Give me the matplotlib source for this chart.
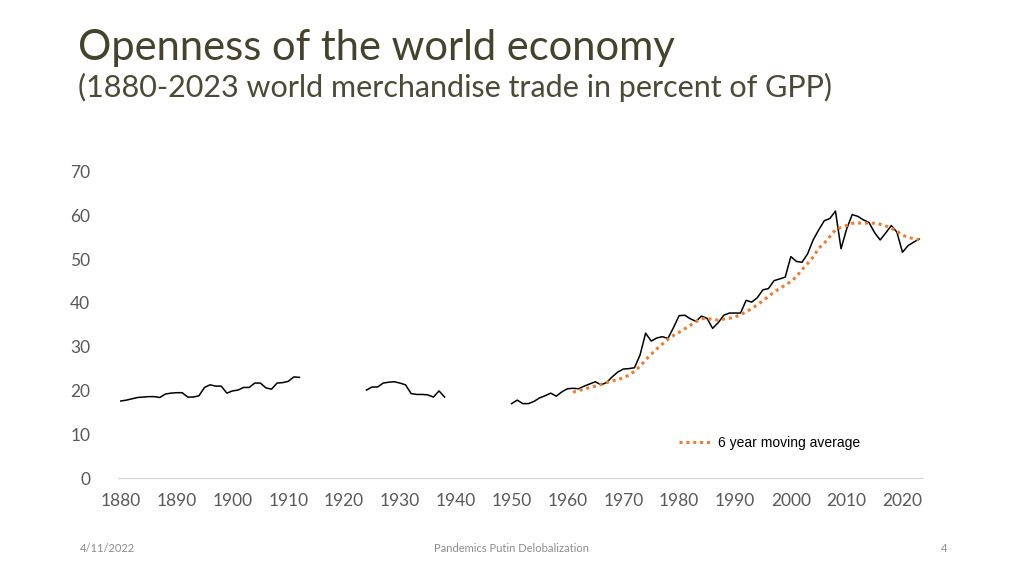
import matplotlib.pyplot as plt

# world merchandise trade in percent of GPP, three segments (gaps = war years)
years_a = list(range(1880, 1913))
trade_a = [17.6, 17.8, 18.1, 18.4, 18.5, 18.6, 18.6, 18.4, 19.2, 19.4,
           19.5, 19.5, 18.5, 18.5, 18.8, 20.7, 21.3, 21.0, 21.0, 19.4,
           19.9, 20.1, 20.7, 20.7, 21.7, 21.7, 20.6, 20.3, 21.7, 21.8,
           22.1, 23.1, 23.0]

years_b = list(range(1924, 1939))
trade_b = [20.1, 20.8, 20.8, 21.7, 21.9, 22.0, 21.7, 21.3, 19.3, 19.1,
           19.1, 19.0, 18.5, 19.9, 18.5]

years_c = list(range(1950, 2024))
trade_c = [17.0, 17.8, 17.0, 17.0, 17.5, 18.3, 18.8, 19.4, 18.7, 19.7,
           20.4, 20.5, 20.4, 21.0, 21.5, 22.0, 21.3, 21.8, 23.1, 24.2,
           24.9, 25.0, 25.2, 28.1, 33.1, 31.3, 32.0, 32.3, 31.9, 34.4,
           37.1, 37.2, 36.4, 35.8, 37.0, 36.5, 34.2, 35.5, 37.2, 37.7,
           37.7, 37.7, 40.6, 40.2, 41.2, 43.0, 43.3, 45.1, 45.5, 45.9,
           50.6, 49.5, 49.3, 51.2, 54.4, 56.7, 58.8, 59.3, 61.0, 52.4,
           56.9, 60.2, 59.8, 59.0, 58.4, 56.1, 54.4, 56.0, 57.7, 56.2,
           51.6, 53.1, 53.9, 54.6]

# 6 year moving average
ma_years = list(range(1961, 2024))
ma_vals = [19.6, 20.0, 20.3, 20.7, 21.0, 21.4, 21.8, 22.2, 22.5, 22.9,
           23.5, 24.4, 25.5, 27.0, 28.3, 29.5, 30.6, 31.7, 32.6, 33.3,
           34.1, 34.9, 35.7, 36.4, 36.5, 36.2, 36.1, 36.3, 36.5, 36.8,
           37.3, 38.0, 38.7, 39.6, 40.5, 41.5, 42.5, 43.3, 44.1, 44.9,
           46.0, 47.6, 49.0, 50.5, 52.5, 53.7, 55.2, 56.7, 57.3, 57.7,
           58.2, 58.3, 58.2, 58.3, 58.2, 58.0, 57.6, 57.1, 56.4, 55.5,
           55.0, 54.7, 54.5]

x_ticks = list(range(1880, 2021, 10))
y_ticks = list(range(0, 71, 10))

TICK_COLOR = '#595959'
TITLE_COLOR = '#44442c'
FONT = ['Lato', 'DejaVu Sans']

fig = plt.figure(figsize=(10.24, 5.76), dpi=100)
ax = fig.add_axes([0.1152, 0.1701, 0.7852, 0.5318])

for yrs, vals in [(years_a, trade_a), (years_b, trade_b), (years_c, trade_c)]:
    ax.plot(yrs, vals, color='black', linewidth=1.1)

ax.plot(ma_years, ma_vals, color='#ED7D31', linewidth=2.2,
        linestyle=(0, (1, 1.25)), label='6 year moving average')

ax.set_xlim(1879.5, 2023.5)
ax.set_ylim(0, 70)
ax.set_xticks(x_ticks)
ax.set_yticks(y_ticks)
ax.tick_params(axis='both', length=0, labelsize=12.5, labelcolor=TICK_COLOR)
ax.tick_params(axis='y', pad=20)
ax.tick_params(axis='x', pad=11)
for lab in ax.get_xticklabels() + ax.get_yticklabels():
    lab.set_family(FONT)

for s in ['top', 'right', 'left']:
    ax.spines[s].set_visible(False)
ax.spines['bottom'].set_color('#d9d9d9')
ax.spines['bottom'].set_linewidth(1)

leg = ax.legend(loc='center left', bbox_to_anchor=(0.698, 0.114), frameon=False,
                handlelength=2.3, handletextpad=0.5, borderpad=0, borderaxespad=0,
                prop={'family': 'Liberation Sans', 'size': 10})

fig.text(0.076, 0.895, 'Openness of the world economy', fontsize=30,
         family=FONT, color=TITLE_COLOR, va='baseline')
fig.text(0.076, 0.832, '(1880-2023 world merchandise trade in percent of GPP)', fontsize=22,
         family=FONT, color='#4a4a36', va='baseline')

fig.text(0.078, 0.047, '4/11/2022', fontsize=8, color='#8c8c8c',
         family=FONT, va='center')
fig.text(0.5, 0.047, 'Pandemics Putin Delobalization', fontsize=8, color='#8c8c8c',
         family=FONT, va='center', ha='center')
fig.text(0.922, 0.047, '4', fontsize=8, color='#8c8c8c',
         family=FONT, va='center', ha='center')

fig.savefig('out.png', dpi=100)
